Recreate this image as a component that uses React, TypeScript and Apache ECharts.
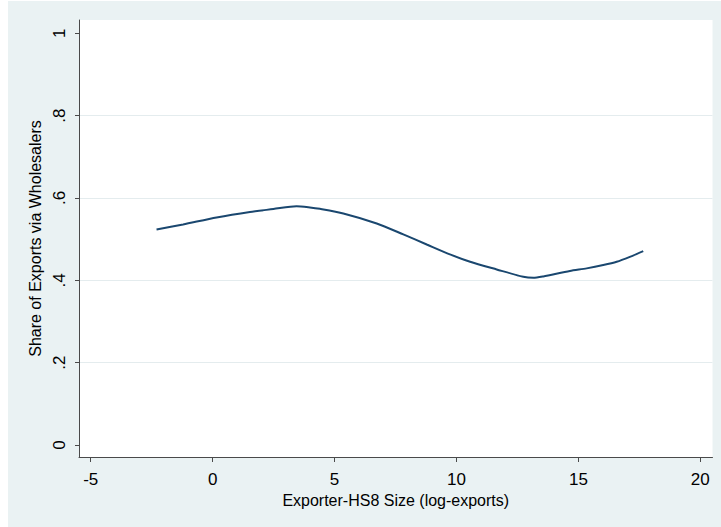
import React, { useEffect, useRef } from "react";
import * as echarts from "echarts";

const xValues = [-2.3, -1.21, 0.16, 1.53, 2.49, 3.44, 3.99, 4.4, 5.36, 6.73, 7.82, 8.78, 9.73, 10.56, 11.65, 12.74, 13.15, 13.56, 14.65, 15.34, 16.02, 16.57, 17.11, 17.66];
const yValues = [0.5235, 0.5357, 0.5527, 0.566, 0.573, 0.58, 0.577, 0.5735, 0.5623, 0.538, 0.5114, 0.487, 0.463, 0.445, 0.4264, 0.4085, 0.406, 0.4095, 0.4226, 0.429, 0.437, 0.445, 0.457, 0.471];
const xTicks = [-5, 0, 5, 10, 15, 20];
const yTicks = [0, 0.2, 0.4, 0.6, 0.8, 1];
const yGrid = [0.2, 0.4, 0.6, 0.8];
const xTitle = "Exporter-HS8 Size (log-exports)";
const yTitle = "Share of Exports via Wholesalers";

const fmtY = (v: number) => {
  if (Math.abs(v) < 1e-9) return "0";
  if (Math.abs(v - 1) < 1e-9) return "1";
  return "." + Math.round(v * 10);
};

export default function App() {
  const ref = useRef<HTMLDivElement>(null);
  useEffect(() => {
    if (!ref.current) return;
    const chart = echarts.init(ref.current, null, { renderer: "svg" });
    const font = "'Liberation Sans', Arial, sans-serif";
    const axisColor = "#4a4a4a";
    chart.setOption({
      animation: false,
      backgroundColor: "#EAF2F3",
      grid: {
        show: true,
        backgroundColor: "#ffffff",
        borderWidth: 0,
        left: 71,
        top: 19,
        right: 8.5,
        bottom: 70,
      },
      xAxis: {
        type: "value",
        min: -5.48,
        max: 20.5,
        name: xTitle,
        nameLocation: "middle",
        nameGap: 32,
        nameTextStyle: { fontFamily: font, fontSize: 16, color: "#000" },
        axisLine: { show: true, onZero: false, lineStyle: { color: axisColor, width: 1 } },
        axisTick: { show: true, length: 5, customValues: xTicks, lineStyle: { color: axisColor } },
        axisLabel: {
          customValues: xTicks,
          fontFamily: font,
          fontSize: 17,
          color: "#000",
          margin: 14,
          showMinLabel: true,
          showMaxLabel: true,
        },
        splitLine: { show: false },
      },
      yAxis: {
        type: "value",
        min: -0.029,
        max: 1.032,
        name: yTitle,
        nameLocation: "middle",
        nameGap: 34,
        nameRotate: 90,
        nameTextStyle: { fontFamily: font, fontSize: 16, color: "#000" },
        axisLine: { show: true, onZero: false, lineStyle: { color: axisColor, width: 1 } },
        axisTick: { show: true, length: 4, customValues: yTicks, lineStyle: { color: axisColor } },
        axisLabel: {
          customValues: yTicks,
          formatter: (v: number) => fmtY(v),
          rotate: 90,
          fontFamily: font,
          fontSize: 17,
          color: "#000",
          margin: 11,
          showMinLabel: true,
          showMaxLabel: true,
        },
        splitLine: { show: false },
      },
      series: [
        {
          type: "line",
          data: xValues.map((x, i) => [x, yValues[i]]),
          smooth: 0.25,
          showSymbol: false,
          lineStyle: { color: "#1A476F", width: 2 },
          markLine: {
            silent: true,
            symbol: ["none", "none"],
            label: { show: false },
            lineStyle: { color: "#E4ECEE", width: 1, type: "solid" },
            data: yGrid.map((y) => ({ yAxis: y })),
            z: 0,
          },
          z: 3,
        },
      ],
    });
    return () => chart.dispose();
  }, []);
  return (
    <div
      ref={ref}
      style={{ position: "fixed", left: 8, top: 1, width: 713, height: 526 }}
    />
  );
}
